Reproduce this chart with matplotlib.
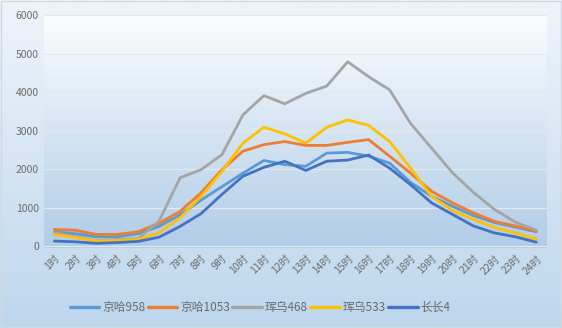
import numpy as np
import matplotlib.pyplot as plt
from matplotlib.colors import LinearSegmentedColormap
from matplotlib.patches import Rectangle

plt.rcParams['font.family'] = ['Noto Sans CJK SC', 'DejaVu Sans']

# 各时段客流数据
hours = [f'{i}时' for i in range(1, 25)]
jh958 = [380, 330, 250, 250, 330, 520, 820, 1200, 1550, 1900, 2230, 2120,
         2080, 2420, 2440, 2340, 2160, 1660, 1300, 1040, 800, 620, 500, 380]
jh1053 = [440, 420, 310, 310, 380, 600, 910, 1390, 1990, 2470, 2640, 2720,
          2620, 2620, 2700, 2770, 2340, 1900, 1430, 1130, 870, 650, 530, 400]
hw468 = [360, 250, 150, 180, 200, 660, 1780, 1990, 2380, 3410, 3910, 3700,
         3970, 4160, 4790, 4400, 4060, 3190, 2550, 1910, 1400, 960, 630, 420]
hw533 = [310, 230, 140, 150, 180, 360, 740, 1300, 1950, 2680, 3090, 2920,
         2680, 3090, 3280, 3140, 2720, 2030, 1300, 930, 700, 490, 350, 190]
cc4 = [140, 120, 80, 100, 130, 240, 520, 850, 1350, 1820, 2050, 2210,
       1970, 2210, 2240, 2370, 2030, 1600, 1130, 830, 530, 350, 250, 110]

series = [('京哈958', jh958, '#5B9BD5'),
          ('京哈1053', jh1053, '#ED7D31'),
          ('珲乌468', hw468, '#A5A5A5'),
          ('珲乌533', hw533, '#FFC000'),
          ('长长4', cc4, '#4472C4')]

fig = plt.figure(figsize=(5.62, 3.28), dpi=100)

# 整体渐变背景
bg = fig.add_axes([0, 0, 1, 1], zorder=-2)
bg_cmap = LinearSegmentedColormap.from_list('bg', ['#eff4fa', '#bdd6ed'])
bg.imshow(np.linspace(0, 1, 256).reshape(-1, 1), cmap=bg_cmap, aspect='auto',
          extent=(0, 1, 0, 1), origin='upper')
bg.set_axis_off()
fig.patches.append(Rectangle((0.001, 0.002), 0.997, 0.995, transform=fig.transFigure,
                             fill=False, edgecolor='#d0d8e0', linewidth=1))

ax = fig.add_axes([0.078, 0.244, 0.895, 0.71])
x = np.arange(len(hours))

# 绘图区渐变
pa_cmap = LinearSegmentedColormap.from_list('pa', ['#fbfdfe', '#b0cce7'])
ax.imshow(np.linspace(0, 1, 256).reshape(-1, 1), cmap=pa_cmap, aspect='auto',
          extent=(-0.5, 23.5, -40, 6000), origin='upper', zorder=0)

for name, vals, color in series:
    ax.plot(x, vals, color=color, linewidth=2.0, label=name, zorder=3,
            solid_joinstyle='round', solid_capstyle='round')

ax.set_xlim(-0.5, 23.5)
ax.set_ylim(-40, 6000)
ax.set_yticks(range(0, 6001, 1000))
ax.yaxis.grid(True, color='#e2e8ee', linewidth=0.9, zorder=1)
ax.set_axisbelow(True)
ax.set_xticks(x)
ax.set_xticklabels(hours, rotation=45, ha='right', rotation_mode='anchor')
ax.tick_params(axis='both', length=0, colors='#6b6b6b', labelsize=7.5)
ax.tick_params(axis='x', pad=4)
for s in ax.spines.values():
    s.set_visible(False)

leg = ax.legend(loc='center', bbox_to_anchor=(0.463, 0.062), bbox_transform=fig.transFigure,
                ncol=5, frameon=False, fontsize=8.5, handlelength=2.5, handletextpad=0.25,
                columnspacing=0.2, labelcolor='#6b6b6b')
for h in leg.get_lines():
    h.set_linewidth(2.4)

plt.savefig('out.png', dpi=100)
